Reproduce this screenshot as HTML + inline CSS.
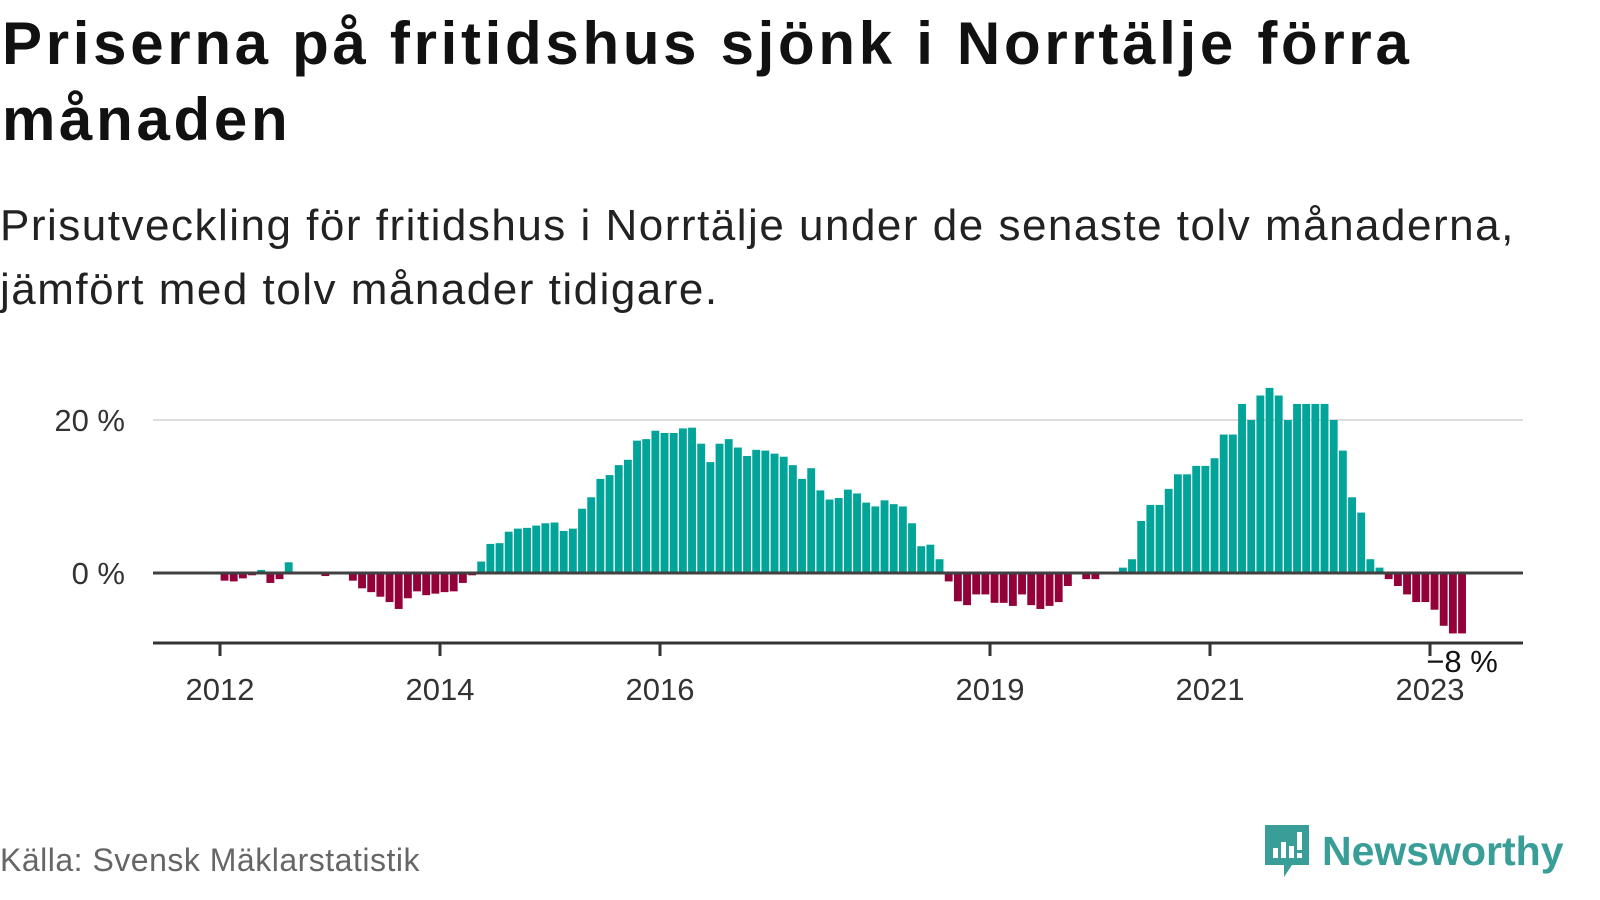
<!DOCTYPE html>
<html><head><meta charset="utf-8">
<style>
body{margin:0;width:1600px;height:900px;background:#fff;font-family:"Liberation Sans",sans-serif;overflow:hidden;position:relative}
#title{position:absolute;left:2px;top:6px;font-size:60px;letter-spacing:3.7px;font-weight:bold;line-height:76px;color:#111;margin:0;width:1500px}
#sub{position:absolute;left:0;top:194px;font-size:44px;letter-spacing:1.5px;line-height:64px;color:#222;margin:0;width:1580px}
#src{position:absolute;left:0;top:842px;font-size:32px;letter-spacing:0.5px;color:#666}
#logo{position:absolute;left:1262px;top:822px;display:flex;align-items:center}
#logo span{font-size:41px;font-weight:bold;color:#3a9e98;margin-left:10px}
svg{position:absolute;left:0;top:0}
</style></head><body>
<h1 id="title">Priserna på fritidshus sjönk i Norrtälje förra månaden</h1>
<p id="sub">Prisutveckling för fritidshus i Norrtälje under de senaste tolv månaderna, jämfört med tolv månader tidigare.</p>
<svg id="chart" width="1600" height="900"></svg>
<div id="src">Källa: Svensk Mäklarstatistik</div>
<div id="logo">
<svg width="50" height="58" viewBox="0 0 50 58" style="position:static"><path d="M3 3h44v40H30l-8 12v-12H3z" fill="#3a9e98"/><rect x="11" y="26" width="5" height="10" fill="#fff"/><rect x="19" y="20" width="5" height="16" fill="#fff"/><rect x="27" y="24" width="5" height="12" fill="#fff"/><rect x="35" y="10" width="5" height="18" fill="#fff"/><rect x="35" y="31" width="5" height="5" fill="#fff"/></svg>
<span>Newsworthy</span></div>
<script>
const startYear = 2012;
const values = [-1.0,-1.1,-0.7,-0.3,0.4,-1.3,-0.8,1.4,0,0,0,-0.4,
0,0,-1.0,-2.0,-2.5,-3.1,-3.8,-4.7,-3.3,-2.4,-2.9,-2.7,
-2.5,-2.4,-1.3,-0.3,1.5,3.8,3.9,5.4,5.8,5.9,6.2,6.5,
6.6,5.5,5.8,8.4,9.9,12.3,12.8,14.1,14.8,17.3,17.5,18.6,
18.3,18.3,18.9,19.0,16.9,14.5,16.9,17.5,16.4,15.3,16.1,16.0,
15.6,15.2,14.1,12.3,13.7,10.8,9.6,9.8,10.9,10.4,9.2,8.7,
9.5,9.0,8.7,6.5,3.5,3.7,1.8,-1.1,-3.7,-4.2,-2.8,-2.8,
-3.9,-3.9,-4.3,-2.8,-4.2,-4.7,-4.3,-3.8,-1.7,0,-0.8,-0.8,
0,0,0.7,1.8,6.8,8.9,8.9,11.0,12.9,12.9,14.0,14.0,
15.0,18.1,18.1,22.1,20.0,23.2,24.2,23.2,20.0,22.1,22.1,22.1,
22.1,20.0,16.0,9.9,7.9,1.8,0.7,-0.8,-1.7,-2.8,-3.8,-3.8,
-4.8,-6.9,-7.9,-7.9];
const yTicks = [0, 20];
const yTickLabels = ["0 %", "20 %"];
const xTickYears = [2012, 2014, 2016, 2019, 2021, 2023];
const lastLabel = "−8 %";

const svg = document.getElementById('chart');
const NS = 'http://www.w3.org/2000/svg';
const x0 = 220, yearW = 110, monthW = yearW/12;
const y = v => 573 - v*7.65;
const xMonth = i => x0 + i*monthW;
const xYear = yr => x0 + (yr-startYear)*yearW;
function mk(tag, attrs){const e=document.createElementNS(NS,tag);for(const k in attrs)e.setAttribute(k,attrs[k]);svg.appendChild(e);return e;}

yTicks.forEach((t,i)=>{
  if(t!==0){const g=mk('line',{x1:153,x2:1523,y1:y(t),y2:y(t),stroke:'#dddddd','stroke-width':2});
  
  }
  const l=mk('text',{x:125,y:y(t)+11,'text-anchor':'end','font-size':31,fill:'#333','font-family':'Liberation Sans, sans-serif'});
  l.textContent=yTickLabels[i];
  
  
});
values.forEach((v,i)=>{
  if(v===0) return;
  const top=Math.min(y(v),y(0)), h=Math.abs(y(v)-y(0));
  const r=mk('rect',{x:xMonth(i)+0.6,y:top,width:monthW-1.3,height:h,fill:v>0?'#00a499':'#93003a'});
  
  
});
const z=mk('line',{x1:153,x2:1523,y1:y(0),y2:y(0),stroke:'#404040','stroke-width':3});


const ax=mk('line',{x1:153,x2:1523,y1:643,y2:643,stroke:'#333','stroke-width':3});


xTickYears.forEach(yr=>{
  const t=mk('line',{x1:xYear(yr),x2:xYear(yr),y1:643,y2:656,stroke:'#333','stroke-width':3});
  
  
  const l=mk('text',{x:xYear(yr),y:700,'text-anchor':'middle','font-size':31,fill:'#333','font-family':'Liberation Sans, sans-serif'});
  l.textContent=yr;
  
  
});
const li=values.length-1;
const ll=mk('text',{x:xMonth(li)+monthW/2,y:672,'text-anchor':'middle','font-size':31,fill:'#111',stroke:'#fff','stroke-width':6,'paint-order':'stroke','font-family':'Liberation Sans, sans-serif'});
ll.textContent=lastLabel;


</script>
</body></html>
